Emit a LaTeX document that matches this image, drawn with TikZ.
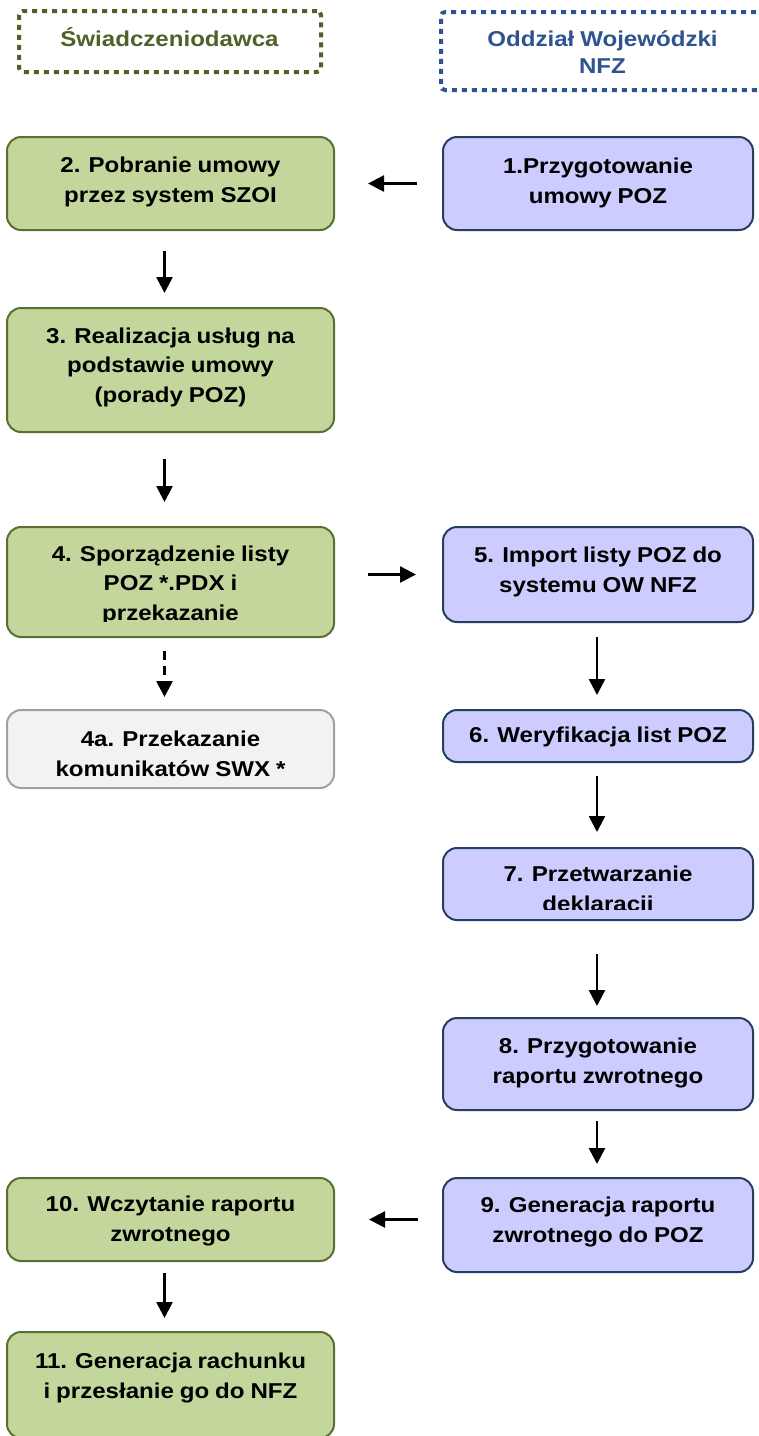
\documentclass[tikz,border=0pt]{standalone}
\usepackage{fontspec}
\newfontfamily\boxfont{Liberation Sans Bold}[FakeStretch=1.12, WordSpace=0.88]
\usetikzlibrary{arrows.meta}
\definecolor{gfill}{HTML}{C3D69B}
\definecolor{gborder}{HTML}{5A7031}
\definecolor{bfill}{HTML}{CCCCFF}
\definecolor{bborder}{HTML}{243F60}
\definecolor{grfill}{HTML}{F2F2F2}
\definecolor{grborder}{HTML}{A0A0A0}
\definecolor{hgreen}{HTML}{4F6228}
\definecolor{hblue}{HTML}{2E5490}
\begin{document}
\begin{tikzpicture}[x=1pt,y=-1pt,
  boxbase/.style={line width=2pt, rounded corners=14pt, inner sep=0pt},
  gbox/.style={boxbase, draw=gborder, fill=gfill, minimum width=327pt},
  bbox/.style={boxbase, draw=bborder, fill=bfill, minimum width=310pt},
  grbox/.style={boxbase, draw=grborder, fill=grfill, minimum width=327pt},
  txt/.style={align=center, inner sep=0pt, font=\boxfont\fontsize{21.5}{29.5}\selectfont},
  hdrtxt/.style={align=center, inner sep=0pt, font=\boxfont\fontsize{21.5}{27}\selectfont},
  hdrbox/.style={line width=4pt, dash pattern=on 5pt off 5pt, rounded corners=4pt, inner sep=0pt},
  arr/.style={line width=2.6pt, -{Triangle[length=16pt,width=16pt]}},
  darr/.style={arr, dash pattern=on 9pt off 6pt}
]
\useasboundingbox (0,0) rectangle (759,1436);
\clip (0,0) rectangle (759,1436);
\fill[white] (0,0) rectangle (759,1436);

% headers
\node[hdrbox, draw=hgreen, minimum width=302pt, minimum height=61pt] (hL) at (170,41.5) {};
\node[hdrtxt, text=hgreen, anchor=base] (tL) at (169.5,46.7) {Świadczeniodawca};
\node[hdrbox, draw=hblue, minimum width=359pt, minimum height=78pt] (hR) at (620.5,51) {};
\node[hdrtxt, text=hblue] (tR) at (602.5,52) {Oddział Wojewódzki\\NFZ};

% boxes
\node[gbox, minimum height=93pt] (n2) at (170.5,183.5) {};
\node[bbox, minimum height=93pt] (n1) at (598,183.5) {};
\node[gbox, minimum height=124pt] (n3) at (170.5,370) {};
\node[gbox, minimum height=110pt] (n4) at (170.5,582) {};
\node[bbox, minimum height=95pt] (n5) at (598,574.5) {};
\node[grbox, minimum height=78pt] (n4a) at (170.5,749) {};
\node[bbox, minimum height=52pt] (n6) at (598,736) {};
\node[bbox, minimum height=72pt] (n7) at (598,884) {};
\node[bbox, minimum height=92pt] (n8) at (598,1064) {};
\node[bbox, minimum height=94pt] (n9) at (598,1225) {};
\node[gbox, minimum height=83pt] (n10) at (170.5,1219.5) {};
\node[gbox, minimum height=106pt] (n11) at (170.5,1385) {};

% texts
\node[txt] (t2) at (170.5,182) {2. Pobranie umowy\\przez system SZOI};
\node[txt] (t1) at (598,183) {1.Przygotowanie\\umowy POZ};
\node[txt] (t3) at (170.5,367) {3. Realizacja usług na\\podstawie umowy\\(porady POZ)};
\begin{scope}
  \clip (7,527) rectangle (334,621);
  \node[txt] (t4) at (170.5,585) {4. Sporządzenie listy\\POZ *.PDX i\\przekazanie};
\end{scope}
\node[txt] (t5) at (598,572) {5. Import listy POZ do\\systemu OW NFZ};
\node[txt] (t4a) at (170.5,754) {4a. Przekazanie\\komunikatów SWX *};
\node[txt] (t6) at (598,737) {6. Weryfikacja list POZ};
\begin{scope}
  \clip (443,848) rectangle (753,909);
  \node[txt] (t7) at (598,891) {7. Przetwarzanie\\deklaracji};
\end{scope}
\node[txt] (t8) at (598,1063) {8. Przygotowanie\\raportu zwrotnego};
\node[txt] (t9) at (598,1222) {9. Generacja raportu\\zwrotnego do POZ};
\node[txt] (t10) at (170.5,1221) {10. Wczytanie raportu\\zwrotnego};
\node[txt] (t11) at (170.5,1378) {11. Generacja rachunku\\i przesłanie go do NFZ};

% connectors
\draw[arr, shorten <=25pt, shorten >=33pt] (n1.west) -- (n2.east);
\draw[arr, shorten <=20pt, shorten >=14pt] ([xshift=-6pt]n2.south) -- ([xshift=-6pt]n3.north);
\draw[arr, shorten <=26pt, shorten >=24pt] ([xshift=-6pt]n3.south) -- ([xshift=-6pt]n4.north);
\draw[arr, shorten <=33pt, shorten >=26pt] (n4.east |- n5.west) -- (n5.west);
\draw[darr, shorten <=13pt, shorten >=12pt] ([xshift=-6pt]n4.south) -- ([xshift=-6pt]n4a.north);
\draw[arr, shorten <=14pt, shorten >=14pt] ([xshift=-1pt]n5.south) -- ([xshift=-1pt]n6.north);
\draw[arr, shorten <=13pt, shorten >=15pt] ([xshift=-1pt]n6.south) -- ([xshift=-1pt]n7.north);
\draw[arr, shorten <=33pt, shorten >=11pt] ([xshift=-1pt]n7.south) -- ([xshift=-1pt]n8.north);
\draw[arr, shorten <=10pt, shorten >=13pt] ([xshift=-1pt]n8.south) -- ([xshift=-1pt]n9.north);
\draw[arr, shorten <=24pt, shorten >=34pt] (n9.west |- n10.east) -- (n10.east);
\draw[arr, shorten <=11pt, shorten >=13pt] ([xshift=-6pt]n10.south) -- ([xshift=-6pt]n11.north);
\end{tikzpicture}
\end{document}
